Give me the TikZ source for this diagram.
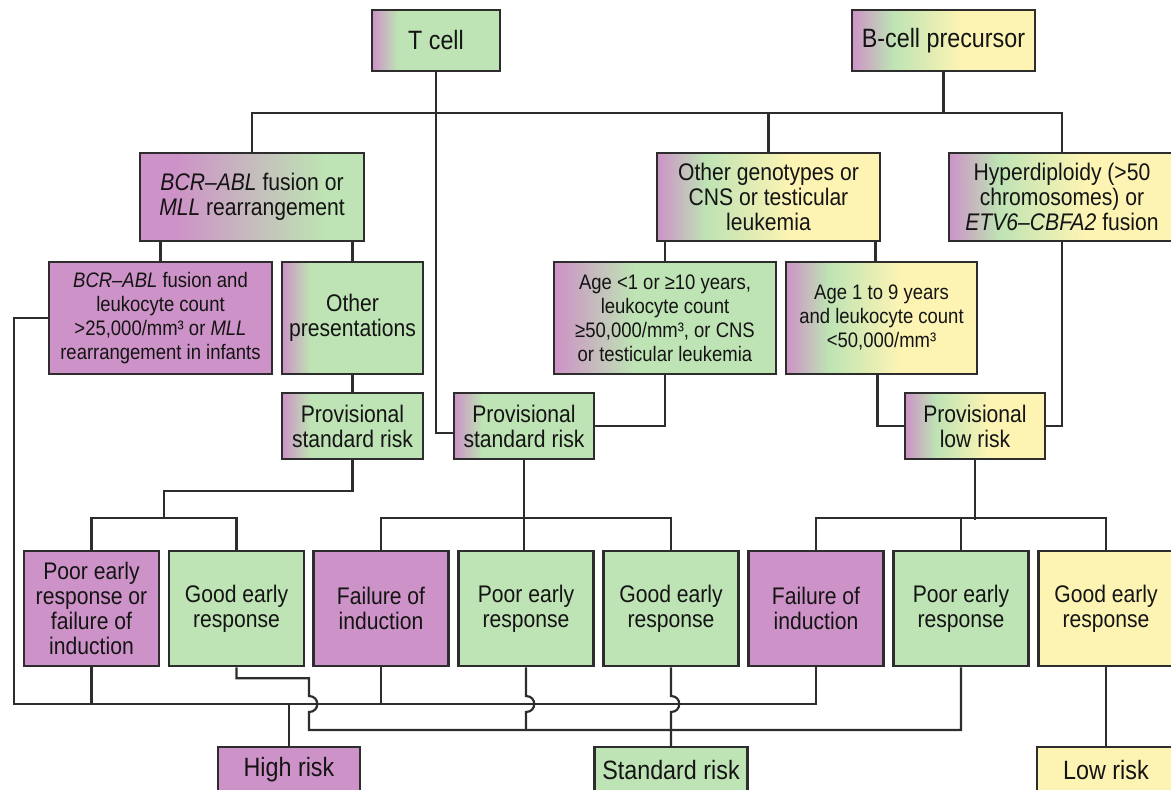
\documentclass[tikz,border=0pt]{standalone}
\usepackage{fontspec}
\setmainfont{Liberation Sans}[FakeStretch=0.88]
\usetikzlibrary{calc}
\definecolor{cpur}{RGB}{205,146,199}
\definecolor{cgrn}{RGB}{190,227,180}
\definecolor{cyel}{RGB}{253,244,180}
\definecolor{cline}{RGB}{45,45,45}
\pgfdeclarehorizontalshading{pgfast}{100bp}{color(0bp)=(cpur); color(25bp)=(cpur); color(35bp)=(cgrn); color(100bp)=(cgrn)}
\pgfdeclarehorizontalshading{pgmid}{100bp}{color(0bp)=(cpur); color(25bp)=(cpur); color(43bp)=(cgrn); color(100bp)=(cgrn)}
\pgfdeclarehorizontalshading{pgslow}{100bp}{color(0bp)=(cpur); color(25bp)=(cpur); color(33bp)=(cpur); color(66bp)=(cgrn); color(100bp)=(cgrn)}
\pgfdeclarehorizontalshading{pgy}{100bp}{color(0bp)=(cpur); color(25bp)=(cpur); color(36bp)=(cgrn); color(55bp)=(cyel); color(100bp)=(cyel)}

\begin{document}
\begin{tikzpicture} [x=1pt, y=-1pt,
       box/.style={draw=cline, line width=2.5pt, inner sep=0pt, align=center, text=black!92,
                   font=\fontsize{24}{25}\selectfont},
       small/.style={font=\fontsize{21}{24}\selectfont},
       big/.style={font=\fontsize{26.5}{28}\selectfont},
       sz/.style 2 args={minimum width=#1pt, minimum height=#2pt},
       wire/.style={cline, line width=2.2pt}]
       \useasboundingbox (0,0) rectangle (1171,790);
       \clip (0,0) rectangle (1171,790);
       \fill[white] (0,0) rectangle (1171,790);

       \node [box, big, shade, shading=pgfast, sz={128}{61}] (tcell) at (436,40.5) {T cell};
       \node [box, big, shade, shading=pgy, sz={183}{61}] (bcell) at (943.5,40.5) {B-cell precursor};

       \node [box, shade, shading=pgslow, sz={224}{88}] (bcrmll) at (252,197)
             {\textit{BCR--ABL} fusion or\\\textit{MLL} rearrangement};
       \node [box, shade, shading=pgy, sz={223}{88}] (othgen) at (768.5,197)
             {Other genotypes or\\CNS or testicular\\leukemia};
       \node [box, shade, shading=pgy, sz={226}{88}] (hyper) at (1062,197)
             {Hyperdiploidy (>50\\chromosomes) or\\\textit{ETV6--CBFA2} fusion};

       \node [box, small, fill=cpur, sz={223}{112}] (bcrleu) at (160.5,318)
             {\textit{BCR--ABL} fusion and\\leukocyte count\\>25,000/mm³ or \textit{MLL}\\rearrangement in infants};
       \node [box, shade, shading=pgfast, sz={141}{112}] (othpres) at (352.5,318) {Other\\presentations};
       \node [box, small, shade, shading=pgmid, sz={222}{112}] (agelow) at (665,318)
             {Age <1 or ≥10 years,\\leukocyte count\\≥50,000/mm³, or CNS\\or testicular leukemia};
       \node [box, small, shade, shading=pgy, sz={191}{112}] (agemid) at (881.5,318)
             {Age 1 to 9 years\\and leukocyte count\\<50,000/mm³};

       \node [box, shade, shading=pgfast, sz={141}{66}] (provA) at (352.5,426) {Provisional\\standard risk};
       \node [box, shade, shading=pgfast, sz={140}{66}] (provB) at (524,426) {Provisional\\standard risk};
       \node [box, shade, shading=pgy, sz={140}{66}] (provlow) at (975,426) {Provisional\\low risk};

       \node [box, fill=cpur, sz={135}{115}] (b1) at (91.5,608.5) {Poor early\\response or\\failure of\\induction};
       \node [box, fill=cgrn, sz={135}{115}] (b2) at (236.5,608.5) {Good early\\response};
       \node [box, fill=cpur, sz={135}{115}] (b3) at (381,608.5) {Failure of\\induction};
       \node [box, fill=cgrn, sz={135}{115}] (b4) at (526,608.5) {Poor early\\response};
       \node [box, fill=cgrn, sz={135}{115}] (b5) at (671,608.5) {Good early\\response};
       \node [box, fill=cpur, sz={135}{115}] (b6) at (816,608.5) {Failure of\\induction};
       \node [box, fill=cgrn, sz={135}{115}] (b7) at (961,608.5) {Poor early\\response};
       \node [box, fill=cyel, sz={135}{115}] (b8) at (1106,608.5) {Good early\\response};

       \node [box, big, fill=cpur, sz={142}{46}] (high) at (289,770) {High risk};
       \node [box, big, fill=cgrn, sz={153}{46}] (std) at (671,770) {Standard risk};
       \node [box, big, fill=cyel, sz={138}{46}] (low) at (1106,770) {Low risk};

       \coordinate (busH) at (14,704);
       \coordinate (busS) at (309,730);
       \coordinate (hopT) at (0,696);
       \coordinate (hopB) at (0,712);

       \draw[wire] (bcell.south) -- (bcell.south |- 0,113);
       \draw[wire] (bcrmll.north) |- (hyper.north |- 0,113) -- (hyper.north);
       \draw[wire] (othgen.north) -- (othgen.north |- 0,113);
       \draw[wire] (tcell.south) |- ($(provB.west)+(0,7)$);

       \draw[wire] (bcrleu.north) -- (bcrleu.north |- bcrmll.south);
       \draw[wire] (othpres.north) -- (othpres.north |- bcrmll.south);
       \draw[wire] (agelow.north) -- (agelow.north |- othgen.south);
       \draw[wire] ([xshift=-6pt]agemid.north) -- ([xshift=-6pt]agemid.north |- othgen.south);
       \draw[wire] (othpres.south) -- (provA.north);
       \draw[wire] (agelow.south) |- (provB.east);
       \draw[wire] ([xshift=-4pt]agemid.south) |- (provlow.west);
       \draw[wire] (hyper.south) |- (provlow.east);

       \draw[wire] (provA.south) -- ++(0,31) -| ($(b1.north)!.5!(b2.north)+(0,-32)$);
       \draw[wire] (b1.north) -- ++(0,-32) -| (b2.north);
       \draw[wire] (provB.south) -- (provB.south |- b4.north);
       \draw[wire] (b3.north) -- ++(0,-32) -| (b5.north);
       \draw[wire] (provlow.south) -- ++(0,60);
       \draw[wire] (b6.north) -- ++(0,-32) -| (b8.north);
       \draw[wire] (b7.north) -- ++(0,-32);

       \draw[wire] (bcrleu.west) -| (busH) -- (b6.south |- busH) -- (b6.south);
       \draw[wire] (b1.south) -- (b1.south |- busH);
       \draw[wire] (b3.south) -- (b3.south |- busH);
       \draw[wire] (high.north) -- (high.north |- busH);

       \draw[wire] (b2.south) -- ++(0,11) -| (busS |- hopT) .. controls +(11,0) and +(11,0) .. (busS |- hopB)
             -- (busS) -- (b7.south |- busS) -- (b7.south);
       \draw[wire] (b4.south) -- (b4.south |- hopT) .. controls +(11,0) and +(11,0) .. (b4.south |- hopB)
             -- (b4.south |- busS);
       \draw[wire] (b5.south) -- (b5.south |- hopT) .. controls +(11,0) and +(11,0) .. (b5.south |- hopB)
             -- (std.north);
       \draw[wire] (b8.south) -- (low.north);
    \end{tikzpicture}
\end{document}
